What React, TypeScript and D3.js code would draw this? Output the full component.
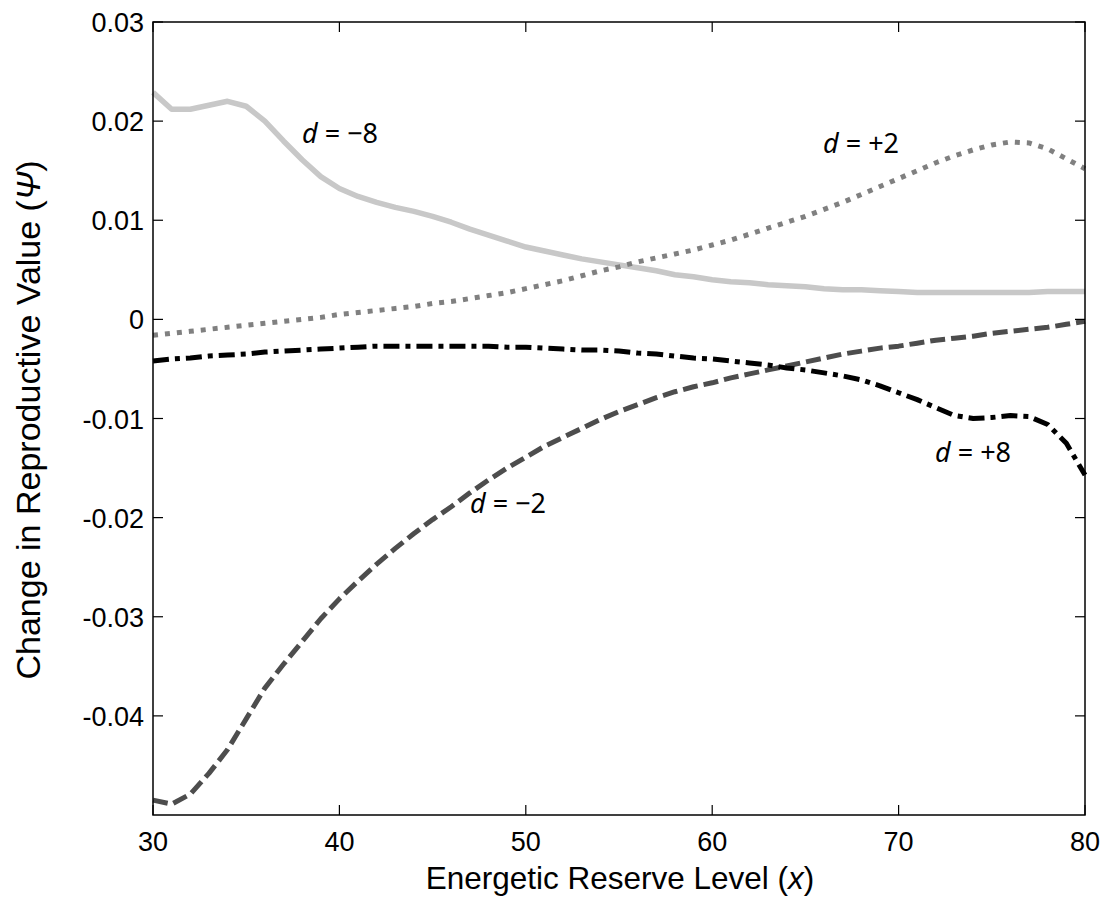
import React, { useEffect } from 'react';
import * as d3 from 'd3';

// energetic reserve levels
const xs = d3.range(30, 81);

// d = -8 (light grey, solid)
const dMinus8 = [
  0.0229, 0.0212, 0.0212, 0.0216, 0.0220, 0.0215, 0.0200, 0.0180, 0.0161, 0.0144,
  0.0132, 0.0124, 0.0118, 0.0113, 0.0109, 0.0104, 0.0098, 0.0091, 0.0085, 0.0079,
  0.0073, 0.0069, 0.0065, 0.0061, 0.0058, 0.0055, 0.0052, 0.0049, 0.0045, 0.0043,
  0.0040, 0.0038, 0.0037, 0.0035, 0.0034, 0.0033, 0.0031, 0.0030, 0.0030, 0.0029,
  0.0028, 0.0027, 0.0027, 0.0027, 0.0027, 0.0027, 0.0027, 0.0027, 0.0028, 0.0028,
  0.0028,
];

// d = +2 (grey, dotted)
const dPlus2 = [
  -0.0016, -0.0014, -0.0012, -0.0010, -0.0008, -0.0006, -0.0004, -0.0002, 0.0000, 0.0002,
  0.0005, 0.0007, 0.0009, 0.0011, 0.0013, 0.0016, 0.0018, 0.0021, 0.0024, 0.0027,
  0.0031, 0.0035, 0.0039, 0.0044, 0.0049, 0.0053, 0.0058, 0.0062, 0.0066, 0.0070,
  0.0075, 0.0080, 0.0086, 0.0092, 0.0098, 0.0104, 0.0111, 0.0118, 0.0126, 0.0134,
  0.0142, 0.0150, 0.0158, 0.0165, 0.0171, 0.0176, 0.0179, 0.0178, 0.0172, 0.0162,
  0.0152,
];

// d = +8 (black, dash-dot)
const dPlus8 = [
  -0.0042, -0.0040, -0.0039, -0.0037, -0.0036, -0.0035, -0.0033, -0.0032, -0.0031, -0.0030,
  -0.0029, -0.0028, -0.0027, -0.0027, -0.0027, -0.0027, -0.0027, -0.0027, -0.0027, -0.0028,
  -0.0028, -0.0029, -0.0030, -0.0031, -0.0031, -0.0032, -0.0034, -0.0035, -0.0037, -0.0039,
  -0.0040, -0.0042, -0.0044, -0.0046, -0.0049, -0.0051, -0.0054, -0.0057, -0.0061, -0.0067,
  -0.0074, -0.0081, -0.0089, -0.0097, -0.0100, -0.0099, -0.0097, -0.0098, -0.0106, -0.0125,
  -0.0157,
];

// d = -2 (dark grey, dashed)
const dMinus2 = [
  -0.0485, -0.0489, -0.0479, -0.0458, -0.0434, -0.0403, -0.0372, -0.0348, -0.0325, -0.0302,
  -0.0282, -0.0264, -0.0247, -0.0231, -0.0216, -0.0202, -0.0189, -0.0175, -0.0162, -0.0150,
  -0.0139, -0.0128, -0.0119, -0.0110, -0.0101, -0.0093, -0.0086, -0.0079, -0.0073, -0.0068,
  -0.0064, -0.0059, -0.0055, -0.0051, -0.0047, -0.0043, -0.0039, -0.0035, -0.0032, -0.0029,
  -0.0027, -0.0024, -0.0021, -0.0019, -0.0017, -0.0014, -0.0012, -0.0010, -0.0008, -0.0005,
  -0.0002,
];

const xTicks = [30, 40, 50, 60, 70, 80];
const yTicks = [0.03, 0.02, 0.01, 0, -0.01, -0.02, -0.03, -0.04];
const yTickLabels = ['0.03', '0.02', '0.01', '0', '-0.01', '-0.02', '-0.03', '-0.04'];

const width = 1103;
const height = 900;
const left = 153;
const right = 1085;
const top = 22;
const bottom = 815;

const x = d3.scaleLinear().domain([30, 80]).range([left, right]);
const y = d3.scaleLinear().domain([-0.05, 0.03]).range([bottom, top]);

const line = d3
  .line<number>()
  .x((_, i) => x(xs[i]))
  .y((d) => y(d));

const series = [
  { name: 'm8', values: dMinus8, color: '#c8c8c8', width: 5.5, dash: 'none' },
  { name: 'p2', values: dPlus2, color: '#808080', width: 5, dash: '5,7' },
  { name: 'm2', values: dMinus2, color: '#4d4d4d', width: 5, dash: '15,6' },
  { name: 'p8', values: dPlus8, color: '#000000', width: 5, dash: '16,6,5,6' },
];

const labels = [
  { sign: '\u22128', lx: 302, ly: 143 },
  { sign: '+2', lx: 823, ly: 153 },
  { sign: '+8', lx: 935, ly: 462 },
  { sign: '\u22122', lx: 470, ly: 513 },
];

const tickFont = 'Liberation Sans, Arial, sans-serif';

export default function App() {
  useEffect(() => {
    document.body.style.margin = '0';
  }, []);

  return (
    <svg width={width} height={height} style={{ display: 'block', background: '#fff' }}>
      <rect x={0} y={0} width={width} height={height} fill="#fff" />

      {/* lines */}
      <g fill="none">
        {series.map((s) => (
          <path
            key={s.name}
            d={line(s.values) ?? ''}
            stroke={s.color}
            strokeWidth={s.width}
            strokeDasharray={s.dash}
            strokeLinejoin="round"
          />
        ))}
      </g>

      {/* frame and inward ticks */}
      <rect x={left} y={top} width={right - left} height={bottom - top} fill="none" stroke="#000" strokeWidth={1.5} />
      <g stroke="#000" strokeWidth={1.2}>
        {xTicks.map((t) => (
          <g key={'xt' + t}>
            <line x1={x(t)} x2={x(t)} y1={bottom} y2={bottom - 10} />
            <line x1={x(t)} x2={x(t)} y1={top} y2={top + 10} />
          </g>
        ))}
        {yTicks.map((t) => (
          <g key={'yt' + t}>
            <line x1={left} x2={left + 10} y1={y(t)} y2={y(t)} />
            <line x1={right} x2={right - 10} y1={y(t)} y2={y(t)} />
          </g>
        ))}
      </g>

      {/* tick labels */}
      <g fontFamily={tickFont} fontSize={27} fill="#000">
        {xTicks.map((t) => (
          <text key={'xl' + t} x={x(t)} y={bottom + 36} textAnchor="middle">
            {t}
          </text>
        ))}
        {yTicks.map((t, i) => (
          <text key={'yl' + t} x={left - 9} y={y(t) + 10} textAnchor="end">
            {yTickLabels[i]}
          </text>
        ))}
      </g>

      {/* axis titles */}
      <text x={620} y={889} textAnchor="middle" fontFamily={tickFont} fontSize={31.5}>
        Energetic Reserve Level (<tspan fontStyle="italic">x</tspan>)
      </text>
      <text
        transform={`translate(40, 420) rotate(-90)`}
        textAnchor="middle"
        fontFamily={tickFont}
        fontSize={34}
      >
        Change in Reproductive Value (<tspan fontStyle="italic">Ψ</tspan>)
      </text>

      {/* curve annotations */}
      <g fontFamily="Noto Sans, Open Sans, sans-serif" fontSize={27}>
        {labels.map((l) => (
          <text key={l.sign} x={l.lx} y={l.ly}>
            <tspan fontStyle="italic">d</tspan> = {l.sign}
          </text>
        ))}
      </g>
    </svg>
  );
}
